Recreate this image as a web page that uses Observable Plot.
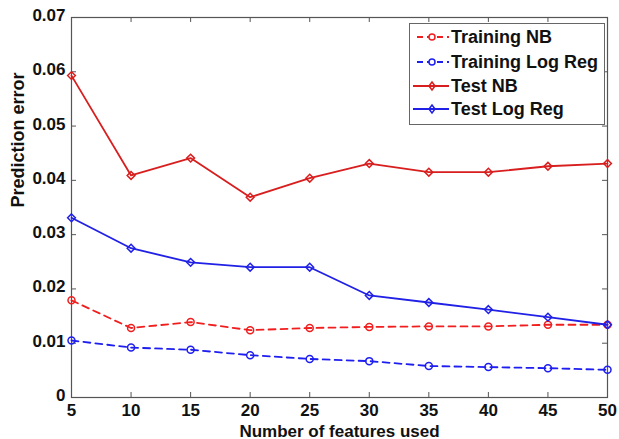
<!DOCTYPE html>
<html><head><meta charset="utf-8">
<script src="https://cdn.jsdelivr.net/npm/d3@7"></script>
<script src="https://cdn.jsdelivr.net/npm/@observablehq/plot@0.6"></script>
<style>
body{margin:0;background:#fff;}
#wrap{position:relative;width:619px;height:439px;font-family:"Liberation Sans",Arial,sans-serif;}
#legend{position:absolute;left:409px;top:23px;width:196px;height:102px;border:1px solid #666;background:#fff;box-sizing:border-box;}
.row{position:absolute;left:0;height:24px;display:flex;align-items:center;}
.row svg{display:block;}
.row span{font-size:18px;font-weight:bold;color:#111;margin-left:1px;white-space:nowrap;}
</style>
</head><body>
<div id="wrap"></div>
<script>
const features = [5, 10, 15, 20, 25, 30, 35, 40, 45, 50];
const trainingNB = [0.0179, 0.0128, 0.0139, 0.0124, 0.0128, 0.0130, 0.0131, 0.0131, 0.0134, 0.0134];
const trainingLogReg = [0.0105, 0.0092, 0.0088, 0.0078, 0.0071, 0.0067, 0.0058, 0.0056, 0.0054, 0.0051];
const testNB = [0.0593, 0.0409, 0.0441, 0.0369, 0.0404, 0.0431, 0.0415, 0.0415, 0.0426, 0.0431];
const testLogReg = [0.0331, 0.0275, 0.0249, 0.0240, 0.0240, 0.0188, 0.0175, 0.0162, 0.0148, 0.0134];
const seriesNames = ["Training NB", "Training Log Reg", "Test NB", "Test Log Reg"];
const xTicks = [5, 10, 15, 20, 25, 30, 35, 40, 45, 50];
const yTicks = [0, 0.01, 0.02, 0.03, 0.04, 0.05, 0.06, 0.07];
const xLabel = "Number of features used";
const yLabel = "Prediction error";

const seriesValues = [trainingNB, trainingLogReg, testNB, testLogReg];
const styles = {
  "Training NB": {color: "#f01e1e", dash: "7,5", symbol: "circle"},
  "Training Log Reg": {color: "#1e1ef0", dash: "7,5", symbol: "circle"},
  "Test NB": {color: "#d81e1e", dash: null, symbol: "diamond2"},
  "Test Log Reg": {color: "#2020e6", dash: null, symbol: "diamond2"}
};
const rows = seriesNames.flatMap((s, i) => features.map((f, j) => ({series: s, x: f, y: seriesValues[i][j]})));

const W = 619, H = 439, mL = 71, mR = 12, mT = 17, mB = 42;
const fw = W - mL - mR, fh = H - mT - mB;

const lineMarks = seriesNames.flatMap(s => {
  const st = styles[s];
  const d = rows.filter(r => r.series === s);
  return [
    Plot.line(d, {x: "x", y: "y", stroke: st.color, strokeWidth: 1.8, strokeDasharray: st.dash}),
    Plot.dot(d, {x: "x", y: "y", stroke: st.color, fill: "none", strokeWidth: 1.5, r: 3.5, symbol: st.symbol})
  ];
});

const chart = Plot.plot({
  width: W, height: H,
  marginLeft: mL, marginRight: mR, marginTop: mT, marginBottom: mB,
  style: {fontFamily: "Liberation Sans, Arial, sans-serif", fontSize: "17px", fontWeight: "bold", color: "#111", background: "#fff"},
  x: {domain: [5, 50]},
  y: {domain: [0, 0.07]},
  marks: [
    Plot.frame({stroke: "#555", strokeWidth: 1.2}),
    Plot.tickX(xTicks, {x: d => d, insetTop: fh - 5, stroke: "#555"}),
    Plot.tickX(xTicks, {x: d => d, insetBottom: fh - 5, stroke: "#555"}),
    Plot.tickY(yTicks, {y: d => d, insetRight: fw - 5, stroke: "#555"}),
    Plot.tickY(yTicks, {y: d => d, insetLeft: fw - 5, stroke: "#555"}),
    Plot.axisX(xTicks, {tickSize: 0, tickPadding: 6, label: null, fontSize: 17, fontWeight: "bold"}),
    Plot.axisY(yTicks, {tickSize: 0, tickPadding: 6, label: null, tickFormat: d => d === 0 ? "0" : d3.format(".2f")(d), fontSize: 17, fontWeight: "bold", dy: -2}),
    Plot.text([xLabel], {text: d => d, frameAnchor: "bottom", lineAnchor: "bottom", dy: 39, fontSize: 17, fontWeight: "bold", fill: "#111"}),
    Plot.text([yLabel], {text: d => d, frameAnchor: "left", rotate: -90, dx: -53, fontSize: 18, fontWeight: "bold", fill: "#111"}),
    ...lineMarks
  ]
});
const wrap = document.getElementById("wrap");
wrap.appendChild(chart);

// legend
const legend = document.createElement("div");
legend.id = "legend";
const rowTops = [1, 26, 50, 73];
seriesNames.forEach((s, i) => {
  const st = styles[s];
  const row = document.createElement("div");
  row.className = "row";
  row.style.top = rowTops[i] + "px";
  const ns = "http://www.w3.org/2000/svg";
  const svg = document.createElementNS(ns, "svg");
  svg.setAttribute("width", 40); svg.setAttribute("height", 24);
  const ln = document.createElementNS(ns, "line");
  ln.setAttribute("x1", st.dash ? 7 : 3); ln.setAttribute("x2", 39);
  ln.setAttribute("y1", 12); ln.setAttribute("y2", 12);
  ln.setAttribute("stroke", st.color); ln.setAttribute("stroke-width", 1.8);
  if (st.dash) ln.setAttribute("stroke-dasharray", "6,4");
  svg.appendChild(ln);
  if (st.symbol === "circle") {
    const c = document.createElementNS(ns, "circle");
    c.setAttribute("cx", 22); c.setAttribute("cy", 12); c.setAttribute("r", 3);
    c.setAttribute("fill", "#fff"); c.setAttribute("stroke", st.color); c.setAttribute("stroke-width", 1.5);
    svg.appendChild(c);
  } else {
    const p = document.createElementNS(ns, "path");
    p.setAttribute("d", "M22,8L25,12L22,16L19,12Z");
    p.setAttribute("fill", "none"); p.setAttribute("stroke", st.color); p.setAttribute("stroke-width", 1.5);
    svg.appendChild(p);
  }
  row.appendChild(svg);
  const sp = document.createElement("span");
  sp.textContent = s;
  row.appendChild(sp);
  legend.appendChild(row);
});
wrap.appendChild(legend);
</script>
</body></html>
